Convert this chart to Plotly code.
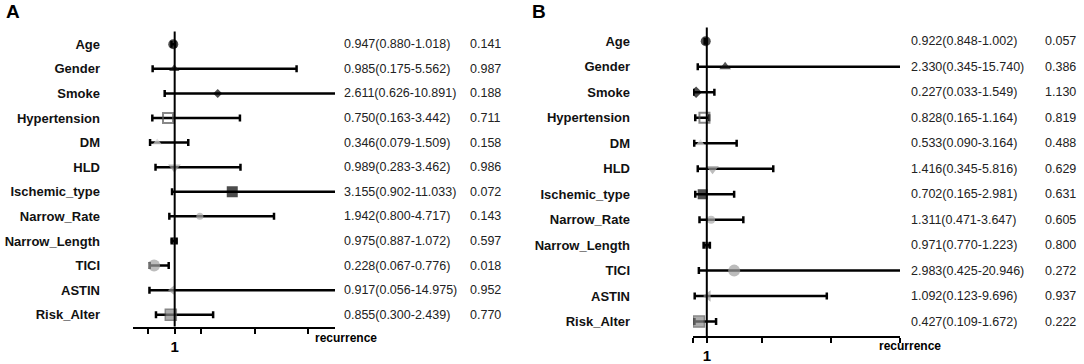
import plotly.graph_objects as go

# ---------------- data ----------------
variables = ["Age", "Gender", "Smoke", "Hypertension", "DM", "HLD", "Ischemic_type",
             "Narrow_Rate", "Narrow_Length", "TICI", "ASTIN", "Risk_Alter"]

hr_a = [0.947, 0.985, 2.611, 0.750, 0.346, 0.989, 3.155, 1.942, 0.975, 0.228, 0.917, 0.855]
lo_a = [0.880, 0.175, 0.626, 0.163, 0.079, 0.283, 0.902, 0.800, 0.887, 0.067, 0.056, 0.300]
hi_a = [1.018, 5.562, 10.891, 3.442, 1.509, 3.462, 11.033, 4.717, 1.072, 0.776, 14.975, 2.439]
p_a = ["0.141", "0.987", "0.188", "0.711", "0.158", "0.986", "0.072", "0.143", "0.597", "0.018", "0.952", "0.770"]

hr_b = [0.922, 2.330, 0.227, 0.828, 0.533, 1.416, 0.702, 1.311, 0.971, 2.983, 1.092, 0.427]
lo_b = [0.848, 0.345, 0.033, 0.165, 0.090, 0.345, 0.165, 0.471, 0.770, 0.425, 0.123, 0.109]
hi_b = [1.002, 15.740, 1.549, 1.164, 3.164, 5.816, 2.981, 3.647, 1.223, 20.946, 9.696, 1.672]
p_b = ["0.057", "0.386", "1.130", "0.819", "0.488", "0.629", "0.631", "0.605", "0.800", "0.272", "0.937", "0.222"]

axis_title = "recurrence"
ref_value = 1

# ---------------- styles ----------------
symbols = ["circle", "triangle-up", "diamond", "square-open", "triangle-up", "triangle-down",
           "square", "circle", "hexagon", "circle", "triangle-left", "square"]
colors = ["#000000", "#111111", "#000000", "#555555", "#d6d6d6", "#a0a0a0",
          "#000000", "#aaaaaa", "#000000", "#a0a0a0", "#999999", "#8a8a8a"]
sizes_a = [10, 9, 7, 10, 8, 11, 11, 7, 8, 12, 9, 11]
sizes_b = [10, 10, 9, 10, 8, 11, 10, 8, 8, 12, 10, 11]

W, H = 1084, 364
FONT = "Liberation Sans, Arial, sans-serif"


def px_x(p):
    return p / W


def px_y(p):
    return 1 - p / H


fig = go.Figure()


def add_panel(hr, lo, hi, sizes, xa, ya):
    fig.add_trace(go.Scatter(
        x=hr, y=variables, mode="markers",
        xaxis=xa, yaxis=ya,
        marker=dict(symbol=symbols, color=colors, size=sizes,
                    line=dict(width=[0, 0, 0, 2, 0, 0, 0, 0, 0, 0, 0, 1.5],
                              color="#555555")),
        error_x=dict(type="data", symmetric=False,
                     array=[h - m for h, m in zip(hi, hr)],
                     arrayminus=[m - l for m, l in zip(hr, lo)],
                     color="black", thickness=2.5, width=3.5),
        showlegend=False, hoverinfo="skip",
    ))


add_panel(hr_a, lo_a, hi_a, sizes_a, "x", "y")
add_panel(hr_b, lo_b, hi_b, sizes_b, "x2", "y2")

# reference lines at 1
for xr, yr in (("x", "y"), ("x2", "y2")):
    fig.add_shape(type="line", xref=xr, yref=yr + " domain", x0=ref_value, x1=ref_value,
                  y0=0, y1=1, line=dict(color="black", width=2), layer="above")

# text columns
ann = []
for hr, lo, hi, pv, yr, xt, xp in ((hr_a, lo_a, hi_a, p_a, "y", 342, 468),
                                   (hr_b, lo_b, hi_b, p_b, "y2", 909, 1043)):
    for v, h, l, u, p in zip(variables, hr, lo, hi, pv):
        ann.append(dict(x=px_x(xt), xref="paper", y=v, yref=yr, xanchor="left",
                        yanchor="middle", showarrow=False,
                        text=f"{h:.3f}({l:.3f}-{u:.3f})",
                        font=dict(family=FONT, size=12.5, color="#222222")))
        ann.append(dict(x=px_x(xp), xref="paper", y=v, yref=yr, xanchor="left",
                        yanchor="middle", showarrow=False, text=p,
                        font=dict(family=FONT, size=12.5, color="#222222")))

# axis titles and panel letters
ann.append(dict(x=px_x(313), y=px_y(344), xref="paper", yref="paper", xanchor="left",
                yanchor="middle", showarrow=False, text=f"<b>{axis_title}</b>",
                font=dict(family=FONT, size=12, color="black")))
ann.append(dict(x=px_x(877), y=px_y(352), xref="paper", yref="paper", xanchor="left",
                yanchor="middle", showarrow=False, text=f"<b>{axis_title}</b>",
                font=dict(family=FONT, size=12, color="black")))
ann.append(dict(x=px_x(4), y=px_y(12), xref="paper", yref="paper", xanchor="left",
                yanchor="middle", showarrow=False, text="<b>A</b>",
                font=dict(family=FONT, size=19, color="black")))
ann.append(dict(x=px_x(530), y=px_y(12), xref="paper", yref="paper", xanchor="left",
                yanchor="middle", showarrow=False, text="<b>B</b>",
                font=dict(family=FONT, size=19, color="black")))

xcommon = dict(showline=True, linecolor="black", linewidth=2, ticks="outside",
               ticklen=5, tickwidth=2, tickcolor="black", showgrid=False, zeroline=False,
               tickfont=dict(family=FONT, size=15, color="black"), fixedrange=True)
ycommon = dict(type="category", categoryorder="array", categoryarray=variables,
               showline=False, showgrid=False, zeroline=False, ticks="",
               tickfont=dict(family=FONT, size=13, color="#111111"), fixedrange=True,
               tickvals=variables, ticktext=[f"<b>{v}</b>" for v in variables])

fig.update_layout(
    width=W, height=H,
    margin=dict(l=0, r=0, t=0, b=0),
    paper_bgcolor="white", plot_bgcolor="white",
    font=dict(family=FONT),
    xaxis=dict(domain=[px_x(133), px_x(335)], range=[-0.56, 7.0], anchor="y",
               tickvals=[0, 1, 2, 4, 6], ticktext=["", "<b>1</b>", "", "", ""], **xcommon),
    yaxis=dict(domain=[px_y(332), px_y(32)], range=[11.48, -0.52], anchor="x",
               ticklabelstandoff=32, **ycommon),
    xaxis2=dict(domain=[px_x(693), px_x(900)], range=[0, 15], anchor="y2",
                tickvals=[0, 1, 5, 10, 15], ticktext=["", "<b>1</b>", "", "", ""], **xcommon),
    yaxis2=dict(domain=[px_y(342), px_y(28)], range=[11.58, -0.54], anchor="x2",
                ticklabelstandoff=62, **ycommon),
    annotations=ann,
)

fig.write_html("out.html", config={"displayModeBar": False},
               post_script="document.body.style.margin='0';document.body.style.overflow='hidden';")
